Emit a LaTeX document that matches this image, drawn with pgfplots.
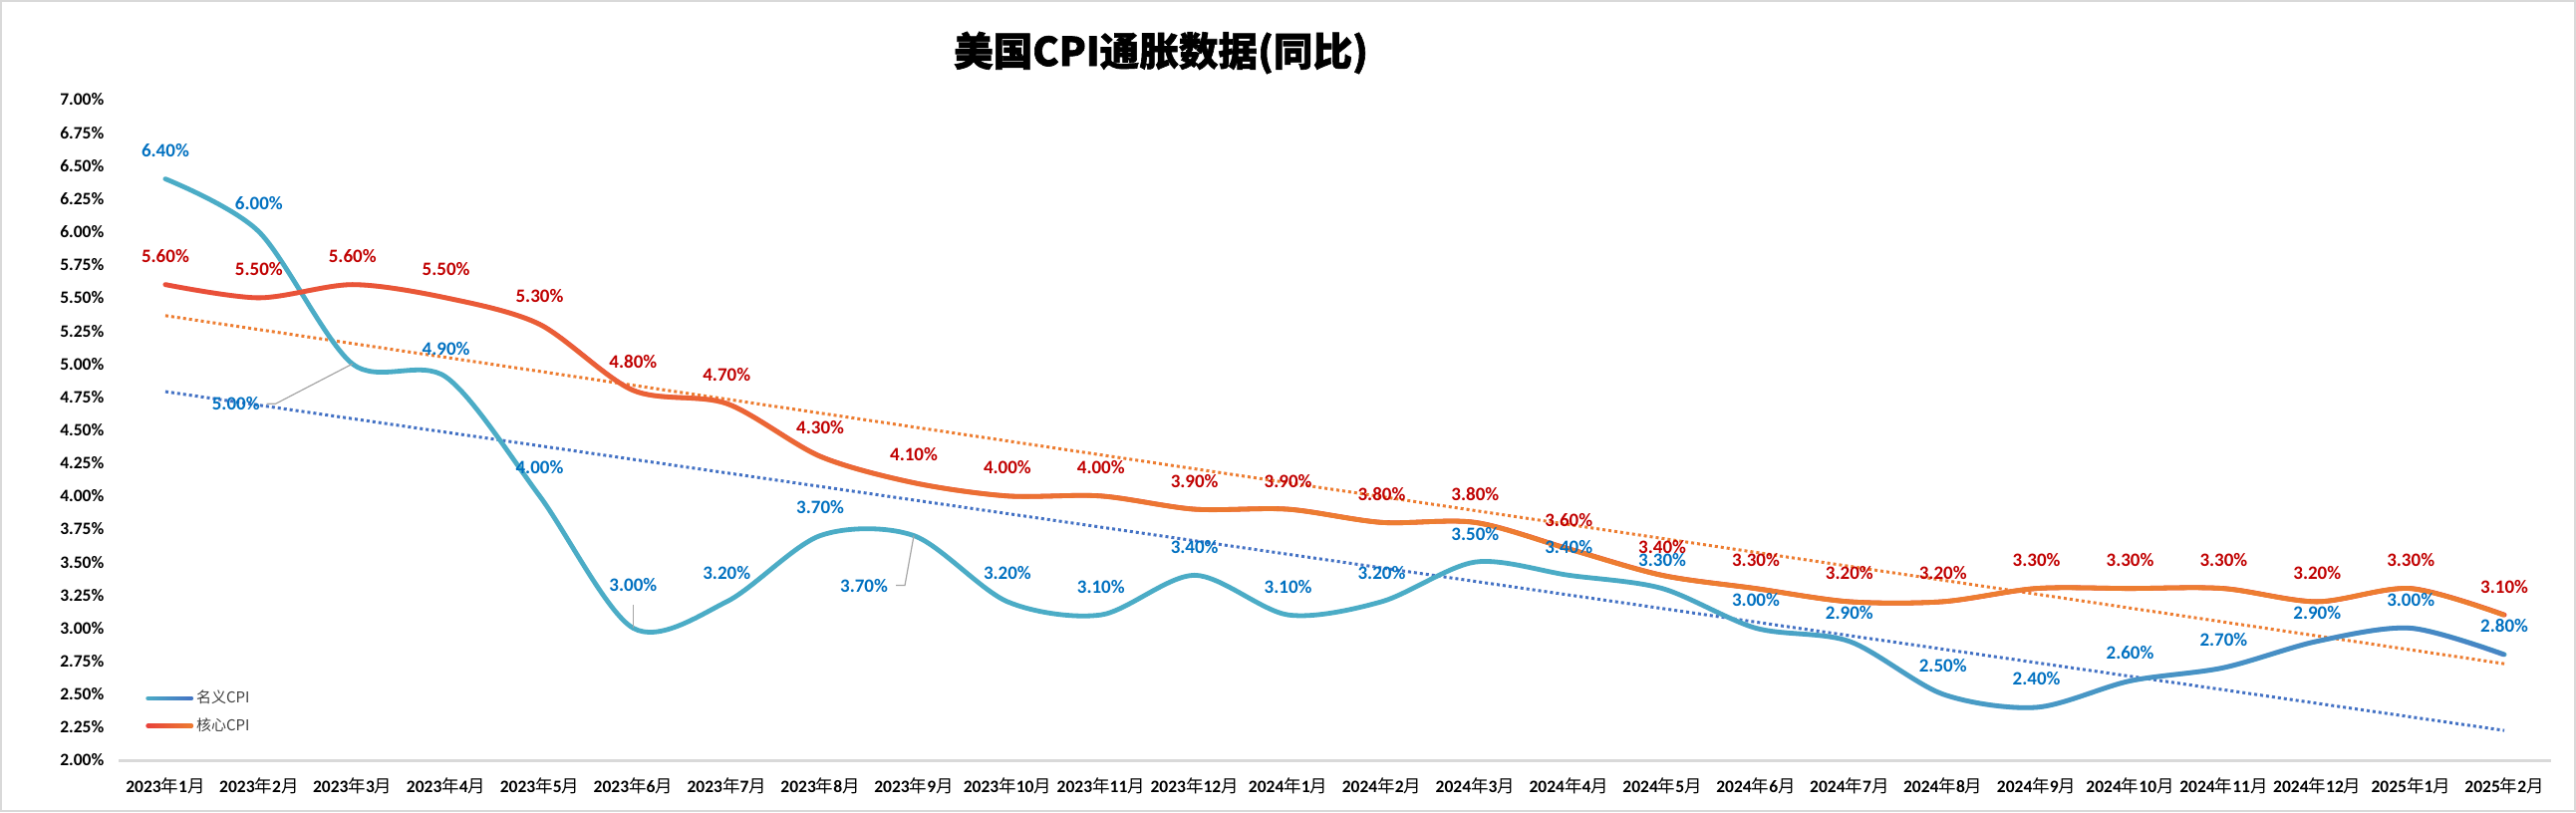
\documentclass[border=0pt]{standalone}
\usepackage{pgfplots}
\pgfplotsset{compat=1.18}
\usepackage{pgfplotstable}
\usetikzlibrary{fadings}
\usepackage{fontspec}
\setmainfont{Carlito}
\newfontfamily\cjk{Noto Sans CJK SC}
\newfontfamily\cjkT[BoldFeatures={FakeBold=1.5}]{Noto Sans CJK SC}

\definecolor{bA}{HTML}{4BACC6}
\definecolor{bB}{HTML}{4472C4}
\definecolor{rA}{HTML}{E8413C}
\definecolor{rB}{HTML}{ED7D31}
\definecolor{blueLbl}{HTML}{0070C0}
\definecolor{redLbl}{HTML}{C00000}
\definecolor{axgray}{HTML}{D9D9D9}

\pgfdeclarehorizontalshading{bshade}{100bp}{color(0bp)=(black); color(55bp)=(black); color(85bp)=(white); color(100bp)=(white)}
\pgfdeclarefading{bfade}{\pgfuseshading{bshade}}
\pgfdeclarehorizontalshading{rshade}{100bp}{color(0bp)=(black); color(18bp)=(black); color(50bp)=(white); color(100bp)=(white)}
\pgfdeclarefading{rfade}{\pgfuseshading{rshade}}
\tikzfading[name=linfade, left color=transparent!100, right color=transparent!0]

\newcommand\Y{{\cjk\mdseries 年}}
\newcommand\M{{\cjk\mdseries 月}}

\pgfplotstableread{
x y
0 6.4
1 6.0
2 5.0
3 4.9
4 4.0
5 3.0
6 3.2
7 3.7
8 3.7
9 3.2
10 3.1
11 3.4
12 3.1
13 3.2
14 3.5
15 3.4
16 3.3
17 3.0
18 2.9
19 2.5
20 2.4
21 2.6
22 2.7
23 2.9
24 3.0
25 2.8
}\nominal

\pgfplotstableread{
x y
0 6.4
1 6.0
3 4.9
4 4.0
6 3.2
7 3.7
9 3.2
10 3.1
11 3.4
12 3.1
13 3.2
14 3.5
15 3.4
16 3.3
17 3.0
18 2.9
19 2.5
20 2.4
21 2.6
22 2.7
23 2.9
24 3.0
25 2.8
}\nominallbl

\pgfplotstableread{
x y
0 5.6
1 5.5
2 5.6
3 5.5
4 5.3
5 4.8
6 4.7
7 4.3
8 4.1
9 4.0
10 4.0
11 3.9
12 3.9
13 3.8
14 3.8
15 3.6
16 3.4
17 3.3
18 3.2
19 3.2
20 3.3
21 3.3
22 3.3
23 3.2
24 3.3
25 3.1
}\core

\pgfplotstableread{
x y
0 4.79
25 2.225
}\nomtrend

\pgfplotstableread{
x y
0 5.365
25 2.73
}\coretrend

\newcommand\pctlbl{\pgfmathprintnumber[fixed,fixed zerofill,precision=2,assume math mode=true]{\pgfplotspointmeta}\%}

\begin{document}
\begin{tikzpicture}
\useasboundingbox (0,0) rectangle (1292.5pt,407.5pt);
\draw[axgray, line width=1pt] (0.5pt,0.5pt) rectangle (1292pt,407pt);
\node[font=\cjkT\bfseries\fontsize{19.8}{21}\selectfont, inner sep=0pt] at (582.5pt,381pt) {美国CPI通胀数据(同比)};
\begin{axis}[
  at={(59.5pt,26pt)}, anchor=south west,
  scale only axis, width=1220.5pt, height=331.5pt,
  xmin=-0.5, xmax=25.5, ymin=2, ymax=7,
  clip=false,
  axis x line=bottom, axis y line=left,
  x axis line style={-, draw=axgray, line width=1.5pt},
  y axis line style={draw=none},
  tick style={draw=none},
  xtick={0,...,25},
  xticklabels={2023\Y1\M,2023\Y2\M,2023\Y3\M,2023\Y4\M,2023\Y5\M,2023\Y6\M,2023\Y7\M,2023\Y8\M,2023\Y9\M,2023\Y10\M,2023\Y11\M,2023\Y12\M,2024\Y1\M,2024\Y2\M,2024\Y3\M,2024\Y4\M,2024\Y5\M,2024\Y6\M,2024\Y7\M,2024\Y8\M,2024\Y9\M,2024\Y10\M,2024\Y11\M,2024\Y12\M,2025\Y1\M,2025\Y2\M},
  ytick={2,2.25,...,7.01},
  yticklabel={\pgfmathprintnumber[fixed,fixed zerofill,precision=2,assume math mode=true]{\tick}\%},
  tick label style={font=\bfseries\fontsize{8.75}{10}\selectfont, text=black},
  xticklabel style={anchor=center, yshift=-11pt, inner sep=0pt},
  yticklabel style={anchor=east, xshift=-5pt, inner sep=0pt},
  legend style={draw=none, fill=none, at={(0.011,0.035)}, anchor=south west, inner sep=0pt,
    font=\cjk\fontsize{7.5}{9}\selectfont, text=black!75, row sep=3pt,
    nodes={inner sep=1.5pt}},
  legend cell align=left,
]
% trend lines
\addplot[forget plot, color=bB, line width=1.5pt, dash pattern=on 1.5pt off 1.5pt] table {\nomtrend};
\addplot[forget plot, color=rB, line width=1.5pt, dash pattern=on 1.5pt off 1.5pt] table {\coretrend};
% nominal CPI
\addplot[smooth, line width=2.4pt, line cap=round, color=bA,
  legend image code/.code={
    \draw[line width=2.4pt, color=bA] (0pt,0pt) -- (21.5pt,0pt);
    \draw[line width=2.4pt, color=bB, path fading=linfade] (0pt,-1pt) (0pt,0pt) -- (21.5pt,0pt) (21.5pt,1pt);
  }] table {\nominal};
\addlegendentry{名义CPI}
\addplot[forget plot, smooth, line width=2.4pt, line cap=round, color=bB, path fading=bfade] table {\nominal};
% core CPI
\addplot[smooth, line width=2.4pt, line cap=round, color=rA,
  legend image code/.code={
    \draw[line width=2.4pt, color=rA] (0pt,0pt) -- (21.5pt,0pt);
    \draw[line width=2.4pt, color=rB, path fading=linfade] (0pt,-1pt) (0pt,0pt) -- (21.5pt,0pt) (21.5pt,1pt);
  }] table {\core};
\addlegendentry{核心CPI}
\addplot[forget plot, smooth, line width=2.4pt, line cap=round, color=rB, path fading=rfade] table {\core};
% labels
\addplot[forget plot, draw=none, point meta=y, nodes near coords={\pctlbl},
  every node near coord/.append style={anchor=center, yshift=14.25pt, inner sep=0pt, text=redLbl, font=\bfseries\fontsize{9.5}{11}\selectfont}] table {\core};
\addplot[forget plot, draw=none, point meta=y, nodes near coords={\pctlbl},
  every node near coord/.append style={anchor=center, yshift=14.25pt, inner sep=0pt, text=blueLbl, font=\bfseries\fontsize{9.5}{11}\selectfont}] table {\nominallbl};
\addplot[forget plot, draw=none, point meta=y, nodes near coords={\pctlbl},
  every node near coord/.append style={anchor=center, xshift=-58.5pt, yshift=-20pt, inner sep=0pt, text=blueLbl, font=\bfseries\fontsize{9.5}{11}\selectfont}] coordinates {(2,5.0)};
\addplot[forget plot, draw=none, point meta=y, nodes near coords={\pctlbl},
  every node near coord/.append style={anchor=center, yshift=21.5pt, inner sep=0pt, text=blueLbl, font=\bfseries\fontsize{9.5}{11}\selectfont}] coordinates {(5,3.0)};
\addplot[forget plot, draw=none, point meta=y, nodes near coords={\pctlbl},
  every node near coord/.append style={anchor=center, xshift=-25pt, yshift=-25pt, inner sep=0pt, text=blueLbl, font=\bfseries\fontsize{9.5}{11}\selectfont}] coordinates {(8,3.7)};
% leader lines
\draw[black!35, line width=0.6pt] (axis cs:2,5.0) -- ++(-38.5pt,-20pt) -- ++(-4.5pt,0pt);
\draw[black!35, line width=0.6pt] (axis cs:5,3.0) -- ++(0pt,11.5pt);
\draw[black!35, line width=0.6pt] (axis cs:8,3.7) -- ++(-4.5pt,-25pt) -- ++(-4.5pt,0pt);
\end{axis}
\end{tikzpicture}
\end{document}
